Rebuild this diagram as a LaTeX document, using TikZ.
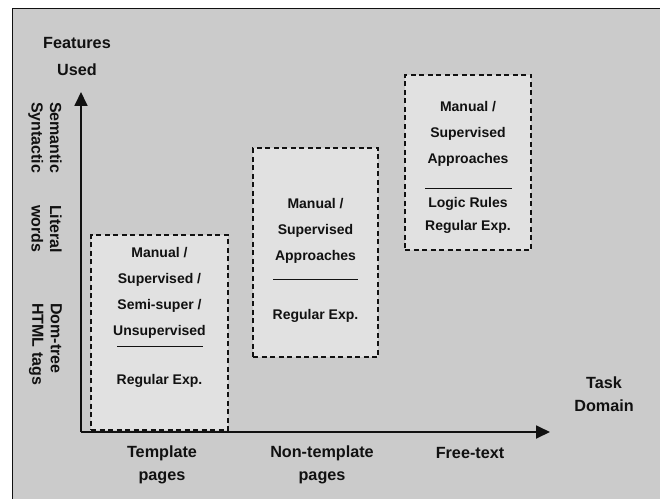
\documentclass[tikz,border=0pt]{standalone}
\usepackage{fontspec}
\setmainfont{Liberation Sans}
\usetikzlibrary{arrows.meta}
\definecolor{bg}{HTML}{CBCBCB}
\definecolor{boxfill}{HTML}{E1E1E1}
\definecolor{ink}{HTML}{111111}
\begin{document}
\begin{tikzpicture}[x=1pt,y=1pt,
  lbl/.style={font=\fontsize{14}{26}\selectfont\bfseries, text=ink, align=center, inner sep=0pt},
  axlbl/.style={font=\fontsize{16.2}{23}\selectfont\bfseries, text=ink, align=center, inner sep=0pt},
  sidelbl/.style={font=\fontsize{16}{18.5}\selectfont\bfseries, text=ink, align=left, inner sep=0pt, rotate=-90, anchor=north west},
  dbox/.style={draw=ink, fill=boxfill, dashed, dash pattern=on 5pt off 3.5pt, line width=1.4pt, rectangle, inner sep=0pt},
  axis/.style={draw=ink, line width=1.8pt, -{Triangle[length=14pt,width=13pt]}},
  sep/.style={draw=ink, line width=1pt}]
\useasboundingbox (0,0) rectangle (660,499);
\fill[white] (0,0) rectangle (660,499);
\fill[bg] (12,0) rectangle (660,490);
\draw[ink, line width=1pt] (12,0) -- (12,490) -- (660,490);
% boxes
\node[dbox, minimum width=137pt, minimum height=195pt] (b1) at (159.5,166.5) {};
\node[dbox, minimum width=125pt, minimum height=209pt] (b2) at (315.5,246.5) {};
\node[dbox, minimum width=126pt, minimum height=175pt] (b3) at (468,336.5) {};
% axes
\coordinate (O) at (81,67);
\coordinate (ytip) at (81,407);
\coordinate (xtip) at (550,67);
\draw[axis] (O) -- (ytip);
\draw[axis] (O) -- (xtip);
% box 1 text
\node[lbl] (t1) at (159.5,206) {Manual /\\Supervised /\\Semi-super /\\Unsupervised};
\coordinate (l1a) at (117,153); \coordinate (l1b) at (203,153);
\draw[sep] (l1a) -- (l1b);
\node[lbl] (r1) at (159.5,118) {Regular Exp.};
% box 2 text
\node[lbl] (t2) at (315.5,268) {Manual /\\Supervised\\Approaches};
\coordinate (l2a) at (273,220); \coordinate (l2b) at (358,220);
\draw[sep] (l2a) -- (l2b);
\node[lbl] (r2) at (315.5,183) {Regular Exp.};
% box 3 text
\node[lbl] (t3) at (468,365) {Manual /\\Supervised\\Approaches};
\coordinate (l3a) at (425,311); \coordinate (l3b) at (512,311);
\draw[sep] (l3a) -- (l3b);
\node[lbl, font=\fontsize{14}{23}\selectfont\bfseries] (r3) at (468,284) {Logic Rules\\Regular Exp.};
% axis labels
\node[axlbl, font=\fontsize{16.2}{27}\selectfont\bfseries] (fu) at (77,442) {Features\\Used};
\node[axlbl] (td) at (604,105) {Task\\Domain};
\node[axlbl] (x1) at (162,34) {Template\\pages};
\node[axlbl] (x2) at (322,34) {Non-template\\pages};
\node[axlbl] (x3) at (470,46) {Free-text};
\node[sidelbl] (y3) at (62,397) {Semantic\\Syntactic};
\node[sidelbl] (y2) at (62,294) {Literal\\words};
\node[sidelbl] (y1) at (62,196) {Dom-tree\\HTML tags};
\end{tikzpicture}
\end{document}
